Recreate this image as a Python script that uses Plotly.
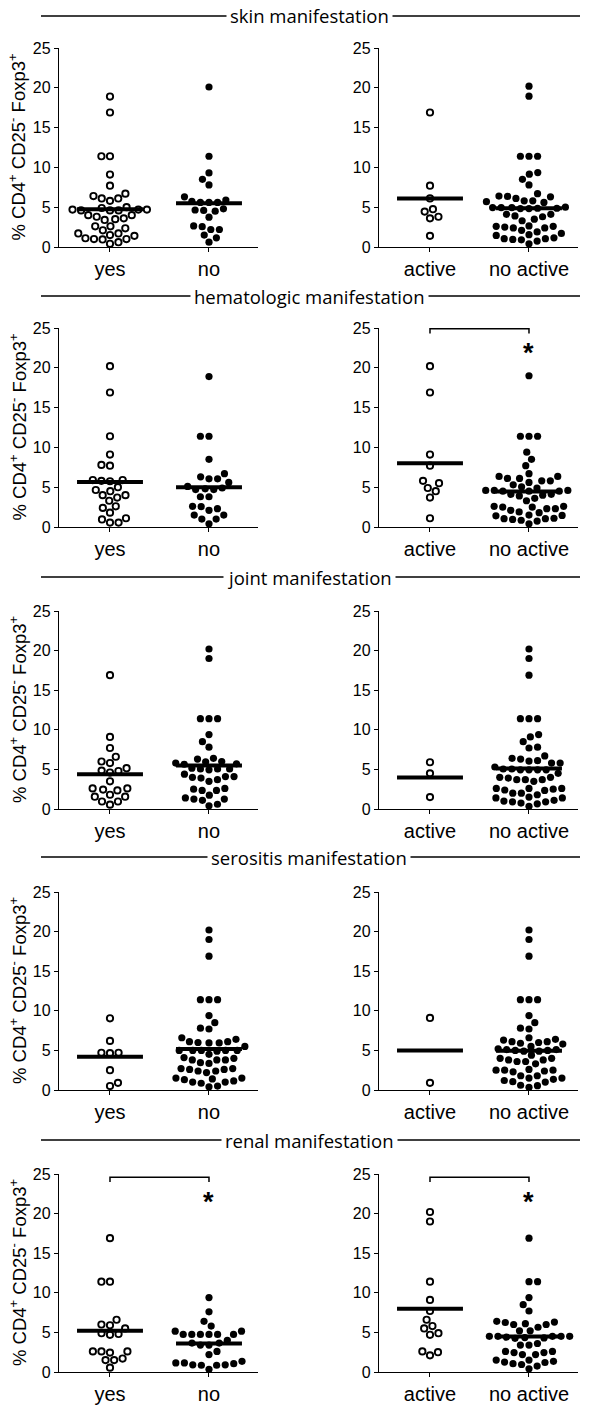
import math
import plotly.graph_objects as go

# ---------------- data ----------------
panel_titles = ["skin manifestation", "hematologic manifestation", "joint manifestation",
                "serositis manifestation", "renal manifestation"]
cats_left = ["yes", "no"]
cats_right = ["active", "no active"]
y_ticks = [0, 5, 10, 15, 20, 25]

skin_yes = [18.9, 16.9, 11.4, 11.4, 9.1, 7.7, 6.7, 6.1, 5.8, 6.1, 6.4, 5.0, 4.6, 4.7, 4.6, 4.7, 4.6,
            4.7, 4.9, 4.0, 4.0, 3.6, 3.4, 3.5, 3.8, 2.6, 2.35, 2.6, 1.7, 1.7, 2.1, 1.4, 1.5, 1.0, 0.95,
            1.0, 1.1, 0.4, 0.6]
skin_no = [20.1, 11.4, 9.3, 8.5, 7.8, 6.3, 5.75, 5.6, 5.6, 5.6, 5.9, 4.65, 4.5, 4.6, 4.8, 3.75, 2.65,
           2.2, 2.55, 2.2, 1.5, 1.15, 0.6]
skin_active = [16.9, 7.7, 6.1, 4.75, 4.45, 3.8, 3.6, 1.4]
skin_noactive = [20.2, 18.95, 11.4, 11.4, 11.4, 9.15, 9.35, 8.5, 7.8, 6.7, 6.3, 6.35, 6.4, 5.8, 5.7,
                 5.8, 6.1, 5.6, 5.0, 4.95, 4.87, 4.83, 4.83, 4.87, 4.95, 4.95, 4.1, 4.1, 3.8, 3.3,
                 3.5, 3.9, 2.65, 2.5, 2.4, 2.4, 2.6, 2.1, 1.7, 1.9, 2.6, 1.55, 1.45, 1.05, 0.95,
                 1.15, 0.75, 0.9, 1.05, 0.4]

hema_yes = [20.2, 16.9, 11.4, 9.1, 7.8, 7.7, 5.75, 5.9, 5.9, 5.8, 5.0, 4.5, 4.65, 4.0, 4.0, 3.3,
            3.7, 2.6, 2.4, 1.8, 0.95, 1.1, 0.55, 0.55]
hema_no = [18.9, 11.4, 11.4, 8.5, 6.7, 6.05, 6.3, 6.05, 5.6, 5.1, 4.9, 4.7, 4.7, 4.8, 3.8, 3.8,
           2.55, 2.6, 2.3, 2.1, 1.5, 1.5, 1.0, 1.0, 0.4]
hema_active = [20.2, 16.9, 9.1, 7.7, 5.8, 5.5, 4.9, 4.5, 3.7, 1.1]
hema_noactive = [19.0, 11.4, 11.4, 11.4, 9.4, 8.5, 7.7, 6.7, 6.35, 6.1, 6.1, 6.35, 5.6, 5.8, 5.8,
                 5.05, 4.9, 4.6, 4.5, 4.5, 4.5, 5.3, 4.6, 4.6, 4.1, 4.0, 3.9, 4.1, 3.3, 3.6, 2.6,
                 2.5, 2.3, 2.3, 2.5, 2.6, 2.1, 1.8, 1.9, 1.5, 1.45, 1.4, 1.05, 0.95, 1.05, 0.75,
                 0.85, 1.1, 0.4]

joint_yes = [16.9, 9.1, 7.7, 6.6, 5.8, 6.0, 5.15, 4.6, 4.8, 4.85, 3.5, 2.6, 2.6, 2.35, 2.45, 1.8,
             1.55, 1.55, 0.95, 0.95, 0.55]
joint_no = [20.2, 19.0, 11.4, 11.4, 11.4, 9.4, 8.5, 7.8, 6.3, 6.4, 5.65, 6.0, 5.95, 5.8, 5.7, 4.95,
            5.05, 5.05, 5.05, 5.15, 4.4, 4.1, 4.1, 3.9, 3.7, 3.5, 4.0, 2.6, 2.5, 2.35, 2.35, 1.75,
            1.25, 1.1, 1.25, 1.4, 0.4, 0.6]
joint_active = [5.9, 4.5, 1.5]
joint_noactive = [20.2, 19.0, 16.9, 11.4, 11.4, 11.4, 9.1, 9.4, 8.5, 7.8, 7.7, 6.7, 6.3, 6.05, 6.1,
                  6.4, 5.8, 5.8, 5.3, 5.05, 4.95, 4.95, 4.95, 4.95, 5.05, 4.5, 4.0, 3.9, 3.7, 3.5,
                  3.7, 3.7, 4.0, 2.6, 2.5, 2.35, 2.4, 2.6, 2.6, 2.0, 1.8, 2.0, 1.4, 1.5, 1.4, 1.1,
                  0.9, 1.0, 0.65, 0.75, 0.9, 0.35]

sero_yes = [9.05, 6.2, 4.7, 4.65, 4.7, 2.5, 0.9, 0.5]
sero_no = [20.2, 19.0, 16.9, 11.4, 11.4, 11.4, 9.4, 8.5, 7.8, 7.7, 6.6, 6.1, 6.0, 5.95, 5.95, 6.1,
           6.4, 5.5, 5.0, 5.0, 5.0, 5.0, 5.0, 4.9, 4.5, 4.0, 3.8, 3.45, 3.35, 3.8, 3.8, 4.1, 2.4,
           2.7, 2.7, 2.6, 2.4, 2.6, 2.2, 1.5, 1.4, 1.0, 0.85, 1.0, 1.15, 1.3, 1.5, 0.4, 0.5]
sero_active = [9.1, 0.9]
sero_noactive = [20.2, 19.0, 16.9, 11.4, 11.4, 11.4, 9.4, 8.5, 7.8, 7.7, 6.6, 6.4, 6.1, 6.0, 5.8,
                 5.9, 6.1, 6.3, 5.5, 5.1, 5.0, 4.9, 4.9, 5.0, 5.1, 5.2, 4.4, 4.0, 3.8, 3.6, 3.3,
                 3.6, 3.8, 4.0, 2.6, 2.5, 2.3, 1.8, 1.8, 2.4, 2.5, 2.5, 1.5, 1.2, 1.0, 0.55, 0.6,
                 1.05, 1.35, 1.5, 0.35]

renal_yes = [16.9, 11.4, 11.4, 6.6, 6.0, 5.9, 5.5, 4.9, 4.7, 4.8, 2.6, 2.6, 2.45, 2.6, 1.5, 1.5,
             1.7, 0.55]
renal_no = [9.4, 7.6, 6.4, 5.8, 5.15, 5.15, 4.75, 4.75, 4.75, 4.75, 4.75, 4.75, 4.0, 3.65, 3.4,
            3.4, 3.65, 2.6, 2.2, 1.35, 1.15, 0.9, 0.85, 0.85, 0.9, 1.05, 1.15, 0.35]
renal_active = [20.2, 19.0, 11.4, 9.1, 7.7, 6.6, 5.8, 5.5, 4.9, 4.7, 2.6, 2.1, 2.5]
renal_noactive = [16.9, 11.4, 11.4, 9.4, 8.5, 7.7, 6.3, 6.1, 6.0, 6.0, 6.25, 6.4, 5.65, 5.2, 5.2,
                  4.35, 4.25, 4.5, 4.5, 4.5, 4.5, 4.5, 4.4, 4.3, 3.4, 3.4, 3.6, 2.6, 2.45, 2.2,
                  2.2, 2.45, 2.6, 1.5, 1.35, 1.2, 0.95, 0.75, 1.05, 1.25, 1.5, 0.4]

# group means as drawn (horizontal bars)
skin_means = [4.75, 5.5]
skin_act_means = [6.1, 4.87]
hema_means = [5.65, 5.0]
hema_act_means = [8.0, 4.47]
joint_means = [4.4, 5.5]
joint_act_means = [3.98, 5.12]
sero_means = [4.2, 5.17]
sero_act_means = [5.0, 4.96]
renal_means = [5.2, 3.6]
renal_act_means = [8.0, 4.47]

# significance: (row, col) with a bracket between the two groups
significant = [(1, 1), (4, 0), (4, 1)]
sig_label = "*"

panels = [
    [(skin_yes, skin_no, skin_means), (skin_active, skin_noactive, skin_act_means)],
    [(hema_yes, hema_no, hema_means), (hema_active, hema_noactive, hema_act_means)],
    [(joint_yes, joint_no, joint_means), (joint_active, joint_noactive, joint_act_means)],
    [(sero_yes, sero_no, sero_means), (sero_active, sero_noactive, sero_act_means)],
    [(renal_yes, renal_no, renal_means), (renal_active, renal_noactive, renal_act_means)],
]

# ---------------- layout geometry ----------------
W, H = 600, 1408
ROWS_PX = [(48, 247), (328, 527), (611, 809), (892, 1090), (1174, 1372)]
COLS_PX = [(59, 258), (379, 578)]
TITLE_Y = [16, 296, 577, 857, 1140]
XR = [-0.515, 1.495]
YR = [0, 25]
SANS = "Liberation Sans, Arial, Helvetica, sans-serif"
TICK_FONT = dict(family=SANS, size=16, color="black")
CAT_FONT = dict(family=SANS, size=20, color="black")


def swarm(values, px_x, px_y, d=8.6):
    order = sorted(range(len(values)), key=lambda i: values[i])
    placed = []
    offs = [0.0] * len(values)
    side = 1
    for i in order:
        y = values[i] * px_y
        ivs = []
        for xp, yp in placed:
            dy = abs(y - yp)
            if dy < d:
                dx = math.sqrt(d * d - dy * dy)
                ivs.append((xp - dx, xp + dx))
        cands = [0.0] + [a for a, b in ivs] + [b for a, b in ivs]
        cands.sort(key=lambda c: (round(abs(c), 6), -c * side))
        chosen = 0.0
        for c in cands:
            if all(c <= a + 1e-6 or c >= b - 1e-6 for a, b in ivs):
                chosen = c
                break
        if abs(chosen) > 1e-6:
            side = -side
        placed.append((chosen, y))
        offs[i] = chosen / px_x
    return offs


fig = go.Figure()
layout = dict(width=W, height=H, margin=dict(l=0, r=0, t=0, b=0, autoexpand=False),
              showlegend=False, plot_bgcolor="white", paper_bgcolor="white",
              template="simple_white")
annotations = []
shapes = []

for r in range(5):
    top, bot = ROWS_PX[r]
    for c in range(2):
        k = r * 2 + c + 1
        xa = "x" if k == 1 else f"x{k}"
        ya = "y" if k == 1 else f"y{k}"
        left, right = COLS_PX[c]
        px_x = (right - left) / (XR[1] - XR[0])
        px_y = (bot - top) / (YR[1] - YR[0])
        cats = cats_left if c == 0 else cats_right
        g0, g1, means = panels[r][c]
        layout["xaxis" if k == 1 else f"xaxis{k}"] = dict(
            domain=[left / W, right / W], anchor=ya, range=XR, tickmode="array",
            tickvals=[0, 1], ticktext=cats, showline=True, linecolor="black", linewidth=1.3,
            ticks="outside", ticklen=4, tickwidth=1.3, tickcolor="black", showgrid=False,
            zeroline=False, tickfont=CAT_FONT, fixedrange=True, automargin=False)
        layout["yaxis" if k == 1 else f"yaxis{k}"] = dict(
            domain=[1 - bot / H, 1 - top / H], anchor=xa, range=YR, tickmode="array",
            tickvals=y_ticks, showline=True, linecolor="black", linewidth=1.3,
            ticks="outside", ticklen=4, tickwidth=1.3, tickcolor="black", showgrid=False,
            zeroline=False, tickfont=TICK_FONT, fixedrange=True, automargin=False)
        for gi, (vals, open_marker) in enumerate([(g0, True), (g1, False)]):
            offs = swarm(vals, px_x, px_y)
            if open_marker:
                mk = dict(symbol="circle", size=6.3, color="white",
                          line=dict(color="black", width=1.9))
            else:
                mk = dict(symbol="circle", size=7.2, color="black",
                          line=dict(color="black", width=0))
            fig.add_trace(go.Scatter(x=[gi + o for o in offs], y=vals, mode="markers",
                                     marker=mk, xaxis=xa, yaxis=ya, cliponaxis=False,
                                     hoverinfo="y"))
        for gi, m in enumerate(means):
            fig.add_trace(go.Scatter(x=[gi - 0.333, gi + 0.333], y=[m, m], mode="lines",
                                     line=dict(color="black", width=4), xaxis=xa, yaxis=ya,
                                     cliponaxis=False, hoverinfo="skip"))
        if (r, c) in significant:
            ytop = 24.9 if r == 1 else 24.6
            fig.add_trace(go.Scatter(x=[0, 0, 1, 1], y=[ytop - 0.6, ytop, ytop, ytop - 0.6],
                                     mode="lines", line=dict(color="black", width=1.5),
                                     xaxis=xa, yaxis=ya, cliponaxis=False, hoverinfo="skip"))
            annotations.append(dict(x=1, y=ytop - 3.1, xref=xa, yref=ya,
                                    text="<b>" + sig_label + "</b>",
                                    showarrow=False, xanchor="center", yanchor="middle",
                                    font=dict(family=SANS, size=27, color="black")))
    # row title with rule
    ty = 1 - TITLE_Y[r] / H
    shapes.append(dict(type="line", xref="paper", yref="paper", x0=41 / W, x1=580 / W,
                       y0=ty, y1=ty, opacity=1, layer="above",
                       line=dict(color="black", width=1.3)))
    annotations.append(dict(x=309 / W, y=ty, xref="paper", yref="paper", text=panel_titles[r],
                            showarrow=False, bgcolor="white", borderpad=3,
                            xanchor="center", yanchor="middle",
                            font=dict(family="Open Sans, Noto Sans, sans-serif", size=18.5,
                                      color="black")))
    # y-axis title (left column only)
    annotations.append(dict(x=18 / W, y=1 - (top + bot) / 2 / H, xref="paper", yref="paper",
                            text="% CD4<sup>+</sup> CD25<sup>-</sup> Foxp3<sup>+</sup>",
                            textangle=-90, showarrow=False, xanchor="center",
                            yanchor="middle",
                            font=dict(family=SANS, size=18.5, color="black")))

layout["annotations"] = annotations
layout["shapes"] = shapes
fig.update_layout(**layout)
fig.write_html("out.html", config={"displayModeBar": False},
               post_script="document.body.style.margin='0';document.body.style.padding='0';")
